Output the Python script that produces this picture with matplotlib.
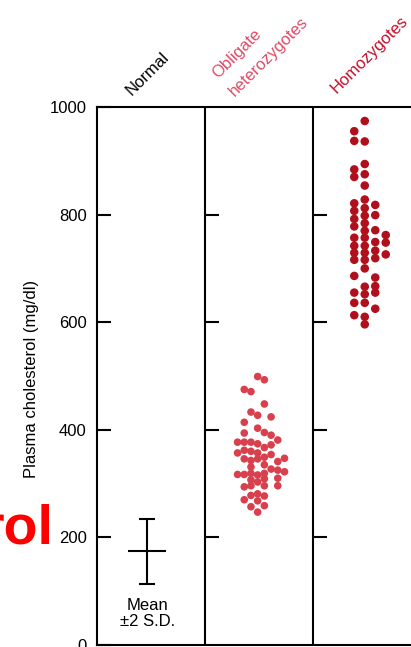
import matplotlib
matplotlib.use("Agg")
import numpy as np
import matplotlib.pyplot as plt

plt.rcParams['font.family'] = ['Liberation Sans', 'DejaVu Sans']

W, H = 411, 647

# y ticks (mg/dl)
y_ticks = [0, 200, 400, 600, 800, 1000]

# Normal: mean +/- 2 S.D.
normal_mean = 174
normal_2sd = 60

# Obligate heterozygotes: cholesterol values and column slot in the dot plot
het_values = [499, 427, 403, 374, 357, 346, 316, 303, 281, 268, 247,
              493, 448, 395, 367, 349, 335, 319, 309, 296, 277, 259,
              475, 414, 394, 377, 362, 346, 317, 294, 270,
              471, 433, 377, 360, 343, 331, 319, 307, 296, 278, 257,
              424, 390, 372, 354, 327,
              381, 341, 325, 310, 296,
              347, 322,
              377, 357, 317]
het_slots = [0] * 11 + [1] * 11 + [-2] * 9 + [-1] * 11 + [2] * 5 + [3] * 5 + [4] * 2 + [-3] * 3

# Homozygotes
hom_values = [974, 936, 894, 875, 854, 828, 812, 798, 784, 770, 757, 742, 729, 716, 700, 666, 652, 636, 610, 596,
              955, 937, 884, 870, 821, 807, 792, 778, 757, 742, 729, 716, 686, 655, 636, 613,
              818, 799, 771, 749, 733, 719, 683, 667, 655, 625,
              762, 748, 726]
hom_slots = [0] * 20 + [-1] * 16 + [1] * 10 + [2] * 3

HET_COLOR = '#d8404e'
HOM_COLOR = '#b0101c'


def px(x, y):
    """pixel -> figure fraction"""
    return x / W, 1 - y / H


fig = plt.figure(figsize=(W / 100, H / 100), dpi=100)
fig.patch.set_facecolor('white')

left, top = px(96.5, 107)
_, bottom = px(0, 645)
ax = fig.add_axes([left, bottom, 324.5 / W, top - bottom])
ax.set_xlim(0, 3)
ax.set_ylim(0, 1000)

for s in ax.spines.values():
    s.set_linewidth(1.5)
    s.set_color('black')

ax.set_xticks([])
ax.set_yticks(y_ticks)
ax.tick_params(axis='y', direction='in', length=10, width=1.5, labelsize=12, pad=7)

# group dividers with their own small ticks
for g in [1, 2]:
    ax.axvline(g, color='black', lw=1.5)
    for v in y_ticks[1:-1]:
        ax.plot([g, g + 0.13], [v, v], color='black', lw=1.5, solid_capstyle='butt')

# normal group: mean +/- 2 S.D.
nx = 0.47
ax.errorbar([nx], [normal_mean], yerr=[normal_2sd], fmt='_', color='black',
            markersize=28, markeredgewidth=1.5, elinewidth=1.5, capsize=6, capthick=1.5)
ax.text(nx, 58, 'Mean\n\u00b12 S.D.', ha='center', va='center', fontsize=12, linespacing=1.1)

# dot plots
het_x = 1.49 + 0.062 * np.array(het_slots)
ax.scatter(het_x, het_values, s=30, color=HET_COLOR, edgecolors='none', zorder=3)

hom_x = 2.48 + 0.097 * np.array(hom_slots)
ax.scatter(hom_x, hom_values, s=38, color=HOM_COLOR, edgecolors='none', zorder=3)

# y label
ax.set_ylabel('Plasma cholesterol (mg/dl)', fontsize=12)
ax.yaxis.set_label_coords(-0.177, 0.494)

# rotated column headers
hdr = dict(rotation=45, rotation_mode='anchor', ha='left', va='baseline', fontsize=12)
fig.text(*px(132, 96), 'Normal', color='black', **hdr)
fig.text(*px(218, 79), 'Obligate', color='#e04a66', **hdr)
fig.text(*px(235, 97), 'heterozygotes', color='#e04a66', **hdr)
fig.text(*px(337, 94), 'Homozygotes', color='#c4102c', **hdr)

# leftover of the slide title
fig.text(*px(53, 543), 'rol', ha='right', va='baseline', color='#ff0000',
         fontsize=40, fontweight='bold')

fig.savefig('out.png', dpi=100)
